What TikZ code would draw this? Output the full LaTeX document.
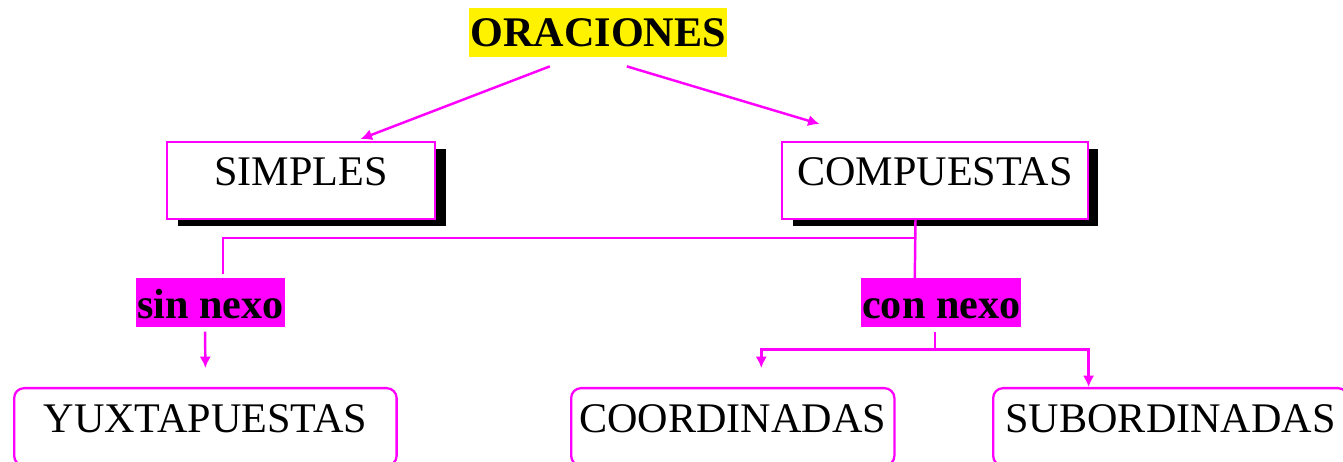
\documentclass[tikz,border=0pt]{standalone}
\usepackage{fontspec}
\setmainfont{Liberation Serif}
\usepackage{tikz}
\usetikzlibrary{calc,shadows,arrows.meta}

\definecolor{fucsia}{RGB}{255,0,255}

\begin{document}
\begin{tikzpicture}[x=0.02cm,y=0.02cm,
  txt/.style={font=\fontsize{24}{28}\selectfont, inner xsep=0pt, inner ysep=0pt, anchor=north west},
  titulo/.style={txt, font=\fontsize{24}{28}\selectfont\bfseries, fill=yellow, minimum width=146.8pt, text height=22pt, text depth=5.7pt},
  caja/.style={txt, draw=fucsia, line width=1.3pt, fill=white, text height=24.9pt, text depth=18.7pt,
    drop shadow={shadow xshift=6pt, shadow yshift=-4pt, fill=black, opacity=1}},
  nexo/.style={txt, font=\fontsize{24}{28}\selectfont\bfseries, fill=fucsia, text height=22.7pt, text depth=5.1pt},
  redonda/.style={txt, draw=fucsia, line width=1.3pt, rounded corners=5.7pt, text height=25.5pt, text depth=18.7pt},
  linea/.style={draw=fucsia, line width=1.4pt},
  flecha/.style={linea, -{Latex[length=6.5pt,width=6.5pt]}}]
\clip (0,0) rectangle (1343,-462);

%Title
\node[titulo] (oraciones) at (469,-8) {ORACIONES};

%Kinds
\node[caja, minimum width=152.5pt] (simples) at (166,-141) {SIMPLES};
\node[caja, minimum width=174pt] (compuestas) at (781,-141) {COMPUESTAS};

%Links
\node[nexo, minimum width=84.5pt] (sinnexo) at (136,-278) {sin nexo};
\node[nexo, minimum width=91pt] (connexo) at (861,-278) {con nexo};

%Bottom row
\node[redonda, minimum width=217.7pt] (yuxta) at (13,-387) {YUXTAPUESTAS};
\node[redonda, minimum width=184pt] (coord) at (570,-387) {COORDINADAS};
\node[redonda, minimum width=202pt] (subord) at (992,-387) {SUBORDINADAS};

%Arrows from the title
\draw[flecha] ($(oraciones.south)+(-48.5,-9)$) -- ($(simples.north)+(59.5,2)$);
\draw[flecha] ($(oraciones.south)+(28.5,-9)$) -- ($(compuestas.north)+(-115.5,17)$);

%Branch below COMPUESTAS
\coordinate (rama) at ($(compuestas.south)+(-19.5,-18)$);
\draw[linea] ($(compuestas.south)+(-19.5,0)$) -- ($(connexo.north)+(-26.5,0)$);
\draw[linea] (rama) -| ($(sinnexo.north)+(12.5,4)$);

%sin nexo
\draw[flecha] ($(sinnexo.south)+(-5.5,-4)$) -- ($(yuxta.north)+(0,19)$);

%con nexo
\coordinate (horca) at ($(connexo.south)+(-6.5,-22)$);
\draw[linea] ($(connexo.south)+(-6.5,-4)$) -- (horca);
\draw[flecha] (horca) -| ($(coord.north)+(28.5,19)$);
\draw[flecha] (horca) -| ($(subord.north)+(-82,0)$);

\end{tikzpicture}
\end{document}
